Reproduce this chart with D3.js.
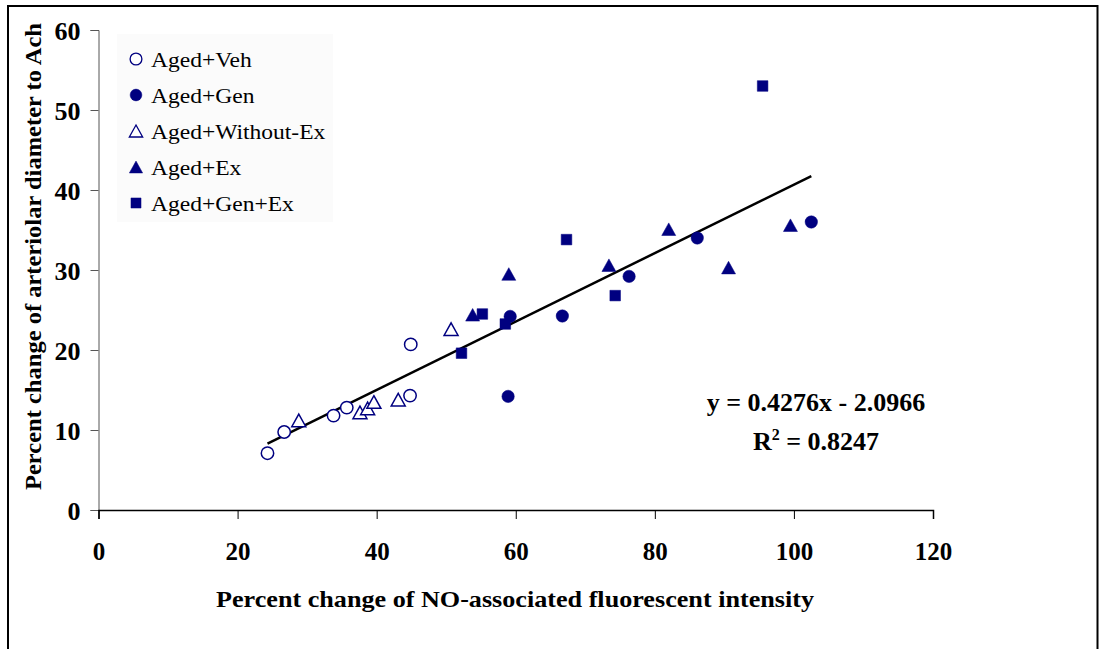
<!DOCTYPE html>
<html>
<head>
<meta charset="utf-8">
<script src="https://d3js.org/d3.v7.min.js"></script>
<style>
  html, body { margin: 0; padding: 0; background: #fff; }
  svg { display: block; }
  text { font-family: "Liberation Serif", "Times New Roman", serif; }
</style>
</head>
<body>
<script>
// ---- Data ----
const seriesNames = ["Aged+Veh", "Aged+Gen", "Aged+Without-Ex", "Aged+Ex", "Aged+Gen+Ex"];

const vehX = [24.3, 26.7, 33.8, 35.7, 44.8, 44.9];
const vehY = [7.1, 9.75, 11.8, 12.8, 14.3, 20.7];

const genX = [58.9, 59.2, 66.7, 76.3, 86.1, 102.5];
const genY = [14.2, 24.2, 24.25, 29.2, 34.0, 36.0];

const withoutExX = [28.8, 37.6, 38.7, 39.6, 43.1, 50.7];
const withoutExY = [11.2, 12.2, 12.7, 13.5, 13.8, 22.6];

const exX = [53.8, 59.0, 73.4, 82.0, 90.6, 99.5];
const exY = [24.4, 29.5, 30.6, 35.1, 30.3, 35.6];

const genExX = [52.2, 55.2, 58.5, 67.3, 74.3, 95.5];
const genExY = [19.6, 24.5, 23.25, 33.8, 26.8, 53.0];

const xTicks = [0, 20, 40, 60, 80, 100, 120];
const yTicks = [0, 10, 20, 30, 40, 50, 60];

const trendSlope = 0.4276;
const trendIntercept = -2.0966;
const equationLabel = "y = 0.4276x - 2.0966";
const r2Label = "0.8247";

const xTitle = "Percent change of NO-associated fluorescent intensity";
const yTitle = "Percent change of arteriolar diameter to Ach";

// ---- Chart ----
const W = 1100, H = 649;
const navy = "#000080";
const FONT = "'Liberation Serif', 'Times New Roman', serif";

const svg = d3.select("body").append("svg").attr("width", W).attr("height", H);

// outer frame
svg.append("rect").attr("x", 8).attr("y", 6).attr("width", 1089.5).attr("height", 660)
  .attr("fill", "none").attr("stroke", "#000").attr("stroke-width", 2);

const x = d3.scaleLinear().domain([0, 120]).range([98.5, 933]);
const y = d3.scaleLinear().domain([0, 60]).range([510, 30]);

// y axis
const yAxis = svg.append("g").attr("transform", `translate(${x(0)},0)`)
  .call(d3.axisLeft(y).tickValues(yTicks).tickSize(8).tickFormat(d3.format("d")));
yAxis.select(".domain").attr("stroke", "#555").attr("stroke-width", 1);
yAxis.selectAll(".tick line").attr("stroke", "#555").attr("stroke-width", 1);
yAxis.selectAll(".tick text")
  .attr("x", -18).attr("dy", "0.36em")
  .style("font-family", FONT)
  .style("font-size", "26px").style("font-weight", "bold").attr("fill", "#000");

// x axis
const xAxis = svg.append("g").attr("transform", `translate(0,${y(0)})`)
  .call(d3.axisBottom(x).tickValues(xTicks).tickSize(9).tickFormat(d3.format("d")));
xAxis.select(".domain").attr("stroke", "#000").attr("stroke-width", 1.5);
xAxis.selectAll(".tick line").attr("stroke", "#000").attr("stroke-width", 1);
xAxis.selectAll(".tick text")
  .attr("y", 32).attr("dy", "0.71em")
  .style("font-family", FONT)
  .style("font-size", "25px").style("font-weight", "bold").attr("fill", "#000");

// axis titles
svg.append("text")
  .attr("x", 515).attr("y", 607)
  .attr("text-anchor", "middle")
  .attr("textLength", 598).attr("lengthAdjust", "spacingAndGlyphs")
  .style("font-family", FONT)
  .style("font-size", "23px").style("font-weight", "bold")
  .text(xTitle);

svg.append("text")
  .attr("transform", "translate(41,256.5) rotate(-90)")
  .attr("text-anchor", "middle")
  .attr("textLength", 467).attr("lengthAdjust", "spacingAndGlyphs")
  .style("font-family", FONT)
  .style("font-size", "23px").style("font-weight", "bold")
  .text(yTitle);

// marker shapes
function markerPath(shape) {
  if (shape === "circle") return d3.symbol(d3.symbolCircle, Math.PI * 6.2 * 6.2)();
  if (shape === "square") return "M-5.3,-5.3H5.3V5.3H-5.3Z";
  // triangle centered on bounding box
  return "M0,-6.3L7,6.3L-7,6.3Z";
}

const series = [
  { name: seriesNames[0], xs: vehX, ys: vehY, shape: "circle", filled: false },
  { name: seriesNames[1], xs: genX, ys: genY, shape: "circle", filled: true },
  { name: seriesNames[2], xs: withoutExX, ys: withoutExY, shape: "triangle", filled: false },
  { name: seriesNames[3], xs: exX, ys: exY, shape: "triangle", filled: true },
  { name: seriesNames[4], xs: genExX, ys: genExY, shape: "square", filled: true }
];

// legend background
svg.append("rect").attr("x", 117).attr("y", 34).attr("width", 216).attr("height", 188)
  .attr("fill", "#fbfbfb");

// trend line
const allX = [].concat(vehX, genX, withoutExX, exX, genExX);
const x0 = d3.min(allX), x1 = d3.max(allX);
svg.append("line")
  .attr("x1", x(x0)).attr("y1", y(trendSlope * x0 + trendIntercept))
  .attr("x2", x(x1)).attr("y2", y(trendSlope * x1 + trendIntercept))
  .attr("stroke", "#000").attr("stroke-width", 2.5);

// points
series.forEach(s => {
  const pts = s.xs.map((v, i) => [v, s.ys[i]]);
  svg.append("g").selectAll("path").data(pts).join("path")
    .attr("d", markerPath(s.shape))
    .attr("transform", d => `translate(${x(d[0])},${y(d[1])})`)
    .attr("fill", s.filled ? navy : "#fff")
    .attr("stroke", navy).attr("stroke-width", s.filled ? 0.5 : 1.5);
});

// legend
const lg = svg.append("g");
series.forEach((s, i) => {
  const cy = 59 + i * 36;
  lg.append("path").attr("d", markerPath(s.shape))
    .attr("transform", `translate(136,${cy}) scale(0.95)`)
    .attr("fill", s.filled ? navy : "#fff")
    .attr("stroke", navy).attr("stroke-width", s.filled ? 0.5 : 1.4);
  lg.append("text")
    .attr("transform", `translate(151,${cy}) scale(1.07,1)`)
    .attr("dy", "0.35em")
    .style("font-family", FONT)
    .style("font-size", "22px").attr("fill", "#000")
    .text(s.name);
});

// equation
svg.append("text").attr("x", 816).attr("y", 411).attr("text-anchor", "middle")
  .style("font-family", FONT)
  .style("font-size", "26px").style("font-weight", "bold")
  .text(equationLabel);
const r2 = svg.append("text").attr("x", 816).attr("y", 450).attr("text-anchor", "middle")
  .style("font-family", FONT)
  .style("font-size", "26px").style("font-weight", "bold");
r2.append("tspan").text("R");
r2.append("tspan").attr("dy", -10).style("font-size", "16px").text("2");
r2.append("tspan").attr("dy", 10).text(" = " + r2Label);
</script>
</body>
</html>
